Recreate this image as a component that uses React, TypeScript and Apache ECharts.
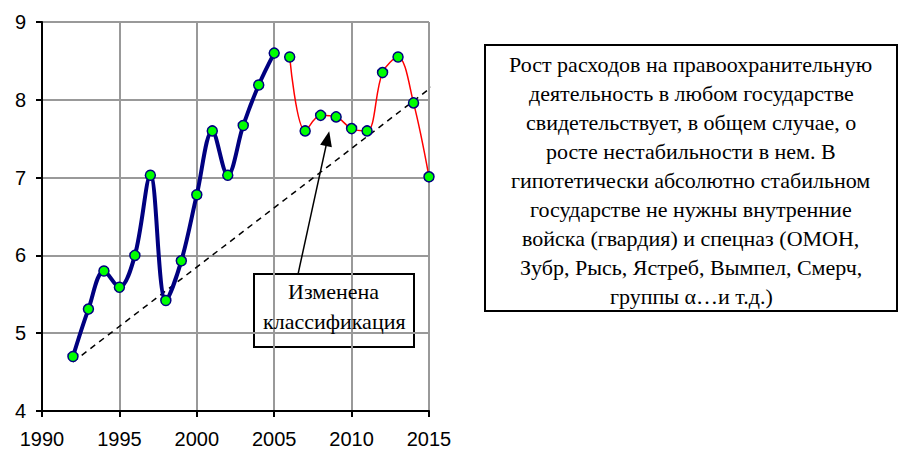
import React, { useEffect, useRef } from "react";
import * as echarts from "echarts";

const blueYears = [1992, 1993, 1994, 1995, 1996, 1997, 1998, 1999, 2000, 2001, 2002, 2003, 2004, 2005];
const blueValues = [4.7, 5.31, 5.8, 5.59, 6.0, 7.03, 5.42, 5.93, 6.78, 7.6, 7.03, 7.67, 8.19, 8.6];
const redYears = [2006, 2007, 2008, 2009, 2010, 2011, 2012, 2013, 2014, 2015];
const redValues = [8.55, 7.6, 7.8, 7.78, 7.63, 7.6, 8.35, 8.55, 7.96, 7.01];
const trendYears = [1992, 2016];
const trendValues = [4.63, 8.29];
const arrowFrom = [2006.55, 5.77];
const arrowTo = [2008.45, 7.5];
const boxNoteLines = ["Изменена", "классификация"];
const sideNoteLines = [
  "Рост расходов на правоохранительную",
  "деятельность в любом государстве",
  "свидетельствует, в общем случае, о",
  "росте нестабильности в нем. В",
  "гипотетически абсолютно стабильном",
  "государстве не нужны внутренние",
  "войска (гвардия) и спецназ (ОМОН,",
  "Зубр, Рысь, Ястреб, Вымпел, Смерч,",
  "группы α…и т.д.)",
];

const zip = (a: number[], b: number[]) => a.map((x, i) => [x, b[i]]);

let measureCtx: CanvasRenderingContext2D | null = null;
const measure = (text: string, size: number) => {
  if (!measureCtx) measureCtx = document.createElement("canvas").getContext("2d");
  if (!measureCtx) return text.length * size * 0.45;
  measureCtx.font = `${size}px serif`;
  return measureCtx.measureText(text).width;
};

const serifTitle = (text: string, cx: number, cy: number, size: number) => ({
  text,
  left: Math.round(cx - measure(text, size) / 2),
  top: Math.round(cy - size / 2 - 1),
  padding: 0,
  textStyle: {
    fontFamily: "serif",
    fontSize: size,
    fontWeight: "normal",
    color: "#000",
  },
});

export default function App() {
  const ref = useRef<HTMLDivElement>(null);
  useEffect(() => {
    if (!ref.current) return;
    const chart = echarts.init(ref.current, null, { renderer: "svg" });
    const marker = {
      symbol: "circle",
      symbolSize: 10,
      itemStyle: { color: "#00ff00", borderColor: "#000080", borderWidth: 1.5 },
    };
    chart.setOption({
      animation: false,
      backgroundColor: "#ffffff",
      title: [
        ...boxNoteLines.map((t, i) => serifTitle(t, 334, 292 + i * 30, 22)),
        ...sideNoteLines.map((t, i) => serifTitle(t, 691, 65 + i * 29, 22)),
      ],
      grid: { left: 42, right: 470, top: 22, bottom: 42 },
      xAxis: {
        type: "value",
        min: 1990,
        max: 2015,
        interval: 5,
        axisLine: { show: true, onZero: false, lineStyle: { color: "#000", width: 2 } },
        axisTick: { show: true, length: 6, lineStyle: { color: "#000", width: 2 } },
        axisLabel: {
          fontFamily: "Liberation Sans",
          fontSize: 20,
          color: "#000",
          margin: 18,
          formatter: (v: number) => String(v),
        },
        splitLine: { show: true, lineStyle: { color: "#999", width: 2 } },
      },
      yAxis: {
        type: "value",
        min: 4,
        max: 9,
        interval: 1,
        axisLine: { show: true, lineStyle: { color: "#000", width: 2 } },
        axisTick: { show: true, length: 6, lineStyle: { color: "#000", width: 2 } },
        axisLabel: { fontFamily: "Liberation Sans", fontSize: 20, color: "#000", margin: 16 },
        splitLine: { show: true, lineStyle: { color: "#999", width: 2 } },
      },
      series: [
        {
          type: "line",
          data: zip(trendYears, trendValues),
          clip: false,
          symbol: "none",
          lineStyle: { color: "#000", width: 1.5, type: [6, 5] },
          z: 1,
          markLine: {
            silent: true,
            symbol: ["none", "triangle"],
            symbolSize: [12, 15],
            label: { show: false },
            lineStyle: { color: "#000", width: 1.5, type: "solid" },
            data: [[{ coord: arrowFrom }, { coord: arrowTo }]],
          },
        },
        {
          type: "line",
          data: zip(blueYears, blueValues),
          smooth: 0.35,
          lineStyle: { color: "#000080", width: 4 },
          ...marker,
          z: 3,
        },
        {
          type: "line",
          data: zip(redYears, redValues),
          smooth: 0.35,
          lineStyle: { color: "#ff0000", width: 1.5 },
          ...marker,
          z: 3,
        },
      ],
      graphic: [
        {
          type: "rect",
          shape: { x: 254, y: 274, width: 160, height: 73 },
          style: { fill: "#fff", stroke: "#000", lineWidth: 2 },
        },
        {
          type: "rect",
          shape: { x: 485, y: 45, width: 412, height: 266 },
          style: { fill: "#fff", stroke: "#000", lineWidth: 2 },
        },
      ],
    });
    return () => chart.dispose();
  }, []);
  return <div ref={ref} style={{ width: 899, height: 453, position: "absolute", left: 0, top: 0 }} />;
}
